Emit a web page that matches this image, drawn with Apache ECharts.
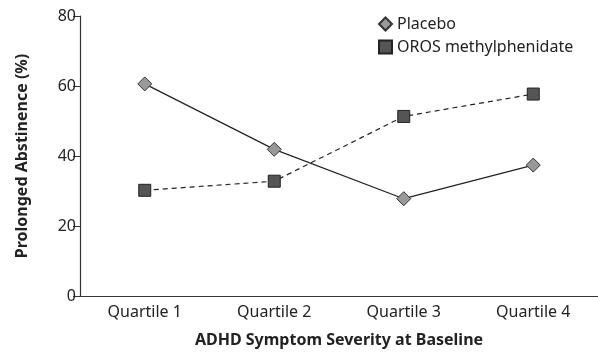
<!DOCTYPE html>
<html><head><meta charset="utf-8">
<script src="https://cdn.jsdelivr.net/npm/echarts@6/dist/echarts.min.js"></script>
<style>html,body{margin:0;padding:0;background:#fff}#c{width:598px;height:353px}</style>
</head><body><div id="c"></div>
<script>
const categories = ['Quartile 1', 'Quartile 2', 'Quartile 3', 'Quartile 4'];
const placebo = [60.6, 41.9, 27.8, 37.4];
const oros = [30.2, 32.8, 51.3, 57.7];
const yTicks = [0, 20, 40, 60, 80];

const font = '"Noto Sans", "Open Sans", sans-serif';
const chart = echarts.init(document.getElementById('c'));
chart.setOption({
  animation: false,
  textStyle: { fontFamily: font },
  grid: { left: 80, top: 16, width: 520, height: 281 },
  legend: {
    orient: 'vertical', left: 373, top: 11, itemWidth: 13, itemHeight: 13, itemGap: 7,
    textStyle: { fontFamily: font, fontSize: 16, color: '#222' },
    data: [{ name: 'Placebo', icon: 'diamond' }, { name: 'OROS methylphenidate', icon: 'rect' }]
  },
  xAxis: {
    type: 'category', data: categories, boundaryGap: true,
    axisLine: { lineStyle: { color: '#333', width: 1.2 } },
    axisTick: { show: false },
    axisLabel: { color: '#222', fontSize: 16, margin: 8, fontFamily: font },
    name: 'ADHD Symptom Severity at Baseline', nameLocation: 'middle', nameGap: 36,
    nameTextStyle: { fontWeight: 'bold', fontSize: 16, color: '#222', fontFamily: font }
  },
  yAxis: {
    type: 'value', min: 0, max: 80, interval: 20,
    axisLine: { show: true, lineStyle: { color: '#333', width: 1.2 } },
    axisTick: { show: true, length: 7, lineStyle: { color: '#333' } },
    splitLine: { show: false },
    axisLabel: { color: '#222', fontSize: 16, margin: 4, fontFamily: font,
      formatter: v => yTicks.includes(v) ? String(v) : '' },
    name: 'Prolonged Abstinence (%)', nameLocation: 'middle', nameGap: 50, nameRotate: 90,
    nameTextStyle: { fontWeight: 'bold', fontSize: 16, color: '#222', fontFamily: font }
  },
  series: [
    { name: 'Placebo', type: 'line', data: placebo, symbol: 'diamond', symbolSize: 14,
      lineStyle: { color: '#222', width: 1.2, type: 'solid' },
      itemStyle: { color: '#999', borderColor: '#333', borderWidth: 1 }, z: 3 },
    { name: 'OROS methylphenidate', type: 'line', data: oros, symbol: 'rect', symbolSize: 12,
      lineStyle: { color: '#222', width: 1.2, type: [5, 4] },
      itemStyle: { color: '#555', borderColor: '#222', borderWidth: 1 }, z: 2 }
  ]
});
</script></body></html>
